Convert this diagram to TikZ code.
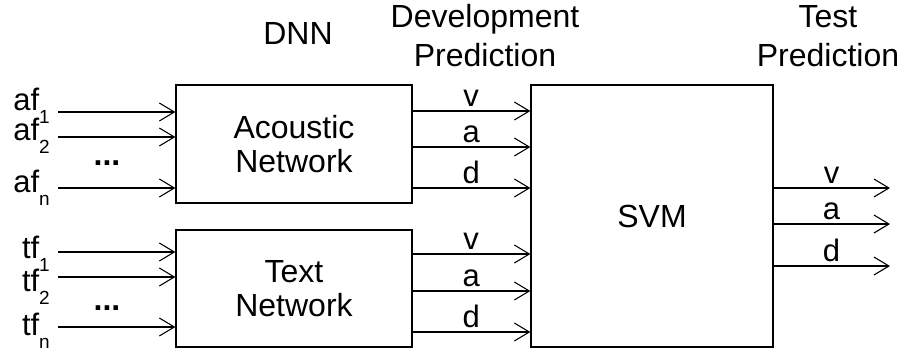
\documentclass[tikz,border=0pt]{standalone}
\usepackage{fontspec}
\setmainfont{Liberation Sans}
\usetikzlibrary{arrows.meta, calc, positioning}
\newcommand\subidx[1]{\raisebox{-13pt}{\fontsize{19}{19}\selectfont #1}}
\tikzset{
    netbox/.style={rectangle, draw=black, line width=1.2pt, align=center, inner sep=0pt, font=\fontsize{32}{34}\selectfont},
    arrow/.style={-{Straight Barb[length=15pt, width=18pt]}, line width=1.1pt},
    feat/.style={anchor=base east, inner sep=0pt, font=\fontsize{31}{31}\selectfont},
    predlab/.style={midway, above, inner sep=4pt, font=\fontsize{31}{31}\selectfont},
    heading/.style={anchor=base, align=center, font=\fontsize{32}{39}\selectfont},
    ellip/.style={font=\fontsize{32}{32}\selectfont\bfseries}
}
\begin{document}
\begin{tikzpicture}[x=1pt, y=-1pt]
    \useasboundingbox (0,0) rectangle (903,349);

    % Networks
    \node[netbox, minimum width=236pt, minimum height=118pt] (acoustic) at (294,144) {Acoustic\\Network};
    \node[netbox, minimum width=236pt, minimum height=117pt] (textnet) at (294,288.5) {Text\\Network};
    \node[netbox, minimum width=242pt, minimum height=262pt] (svm) at (652,216) {SVM};

    % Headings
    \node[heading] (dnnlab) at (298,44) {DNN};
    \node[heading] (devlab) at (485,66) {Development\\Prediction};
    \node[heading] (testlab) at (828,66) {Test\\Prediction};

    % Acoustic features
    \foreach \nm/\y/\txt/\by in {af1/112/af\subidx{1}/110, af2/137/af\subidx{2}/140, afn/188/af\subidx{n}/192}{
        \coordinate (\nm) at (58,\y);
        \node[feat] (\nm lab) at (50,\by) {\txt};
        \draw[arrow] (\nm) -- (\nm -| acoustic.west);
    }
    \node[ellip] (adots) at (107,163) {...};

    % Text features
    \foreach \nm/\y/\txt/\by in {tf1/252/tf\subidx{1}/258, tf2/277/tf\subidx{2}/291, tfn/327/tf\subidx{n}/335}{
        \coordinate (\nm) at (58,\y);
        \node[feat] (\nm lab) at (50,\by) {\txt};
        \draw[arrow] (\nm) -- (\nm -| textnet.west);
    }
    \node[ellip] (tdots) at (107,308) {...};

    % Development predictions
    \foreach \nm/\y in {v/111, a/147, d/188}{
        \coordinate (ac\nm) at (412,\y);
        \draw[arrow] (ac\nm) -- (ac\nm -| svm.west) node[predlab] {\nm};
    }
    \foreach \nm/\y in {v/254, a/291, d/332}{
        \coordinate (tx\nm) at (412,\y);
        \draw[arrow] (tx\nm) -- (tx\nm -| svm.west) node[predlab] {\nm};
    }

    % Test predictions
    \foreach \nm/\y in {v/188, a/224, d/266}{
        \coordinate (sv\nm) at (773,\y);
        \coordinate (te\nm) at (890,\y);
        \draw[arrow] (sv\nm) -- (te\nm) node[predlab] {\nm};
    }
\end{tikzpicture}
\end{document}
